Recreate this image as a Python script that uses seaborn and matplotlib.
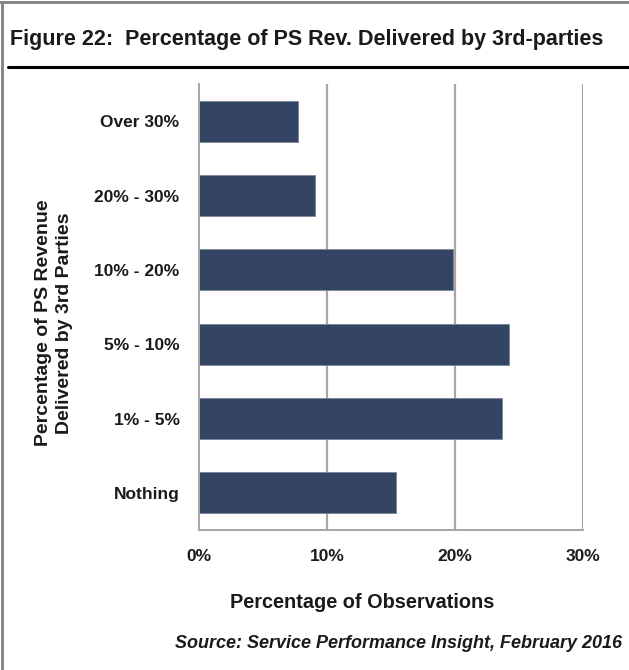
import matplotlib
matplotlib.use("Agg")
import matplotlib.pyplot as plt
import seaborn as sns
import pandas as pd
from matplotlib.lines import Line2D

categories = ["Over 30%", "20% - 30%", "10% - 20%", "5% - 10%", "1% - 5%", "Nothing"]
values = [7.75, 9.05, 19.85, 24.2, 23.7, 15.4]
xticks = [0, 10, 20, 30]
xtick_labels = ["0%", "10%", "20%", "30%"]

sns.set_theme(style="white")
FAM = ["Liberation Sans Narrow", "Liberation Sans", "DejaVu Sans"]
plt.rcParams["font.family"] = FAM

df = pd.DataFrame({"cat": categories, "val": values})

fig = plt.figure(figsize=(6.29, 6.70), dpi=100)
ax = fig.add_axes([199/629, (670-530)/670, (583-199)/629, (530-84)/670])

sns.barplot(data=df, y="cat", x="val", order=categories, color="#344563",
            saturation=1, width=0.55, ax=ax, edgecolor="#7a8599", linewidth=0.6)

ax.set_xlim(0, 30)
ax.set_ylim(5.5, -0.5)
ax.set_xticks(xticks)
ax.set_xticklabels(xtick_labels, fontsize=12.5, fontweight="bold", color="#1a1a1a")
ax.set_yticks(range(len(categories)))
ax.set_yticklabels(categories, fontsize=12.5, fontweight="bold", color="#1a1a1a")
ax.set_yticks([i + 0.5 for i in range(-1, len(categories))], minor=True)
ax.tick_params(axis="y", which="major", length=0, pad=14)
ax.tick_params(axis="y", which="minor", length=6, width=1.2, color="#a6a6a6", direction="out")
ax.tick_params(axis="x", which="major", length=6, width=1.2, color="#a6a6a6", direction="out", pad=8)

for x in xticks[1:]:
    ax.axvline(x, color="#a6a6a6", linewidth=1.6, zorder=0)
ax.set_axisbelow(True)

for s in ["top", "right"]:
    ax.spines[s].set_visible(False)
for s in ["left", "bottom"]:
    ax.spines[s].set_color("#a6a6a6")
    ax.spines[s].set_linewidth(1.4)

ax.set_xlabel("")
ax.set_ylabel("")
fig.text(362/629, 1 - 603/670, "Percentage of Observations", ha="center", va="center",
         fontsize=14.3, fontweight="bold", color="#1a1a1a")
fig.text(54/629, 1 - 323/670, "Percentage of PS Revenue\nDelivered by 3rd Parties", rotation=90,
         ha="center", va="center", fontsize=14, fontweight="bold", color="#1a1a1a",
         linespacing=1.25)

fig.text(10/629, 1 - 40/670, "Figure 22:  Percentage of PS Rev. Delivered by 3rd-parties",
         ha="left", va="center", fontsize=15.5, fontweight="bold", color="#1a1a1a")
fig.text(622/629, 1 - 644/670, "Source: Service Performance Insight, February 2016",
         ha="right", va="center", fontsize=13, fontweight="bold", style="italic", color="#1a1a1a")

# frame lines
fig.add_artist(Line2D([0, 1], [1 - 2/670, 1 - 2/670], color="#808080", linewidth=2, transform=fig.transFigure))
fig.add_artist(Line2D([2/629, 2/629], [0, 1 - 2/670], color="#808080", linewidth=2, transform=fig.transFigure))
fig.add_artist(Line2D([8/629, 1], [1 - 67/670, 1 - 67/670], color="#000000", linewidth=2.2, transform=fig.transFigure))

fig.savefig("out.png", dpi=100)
